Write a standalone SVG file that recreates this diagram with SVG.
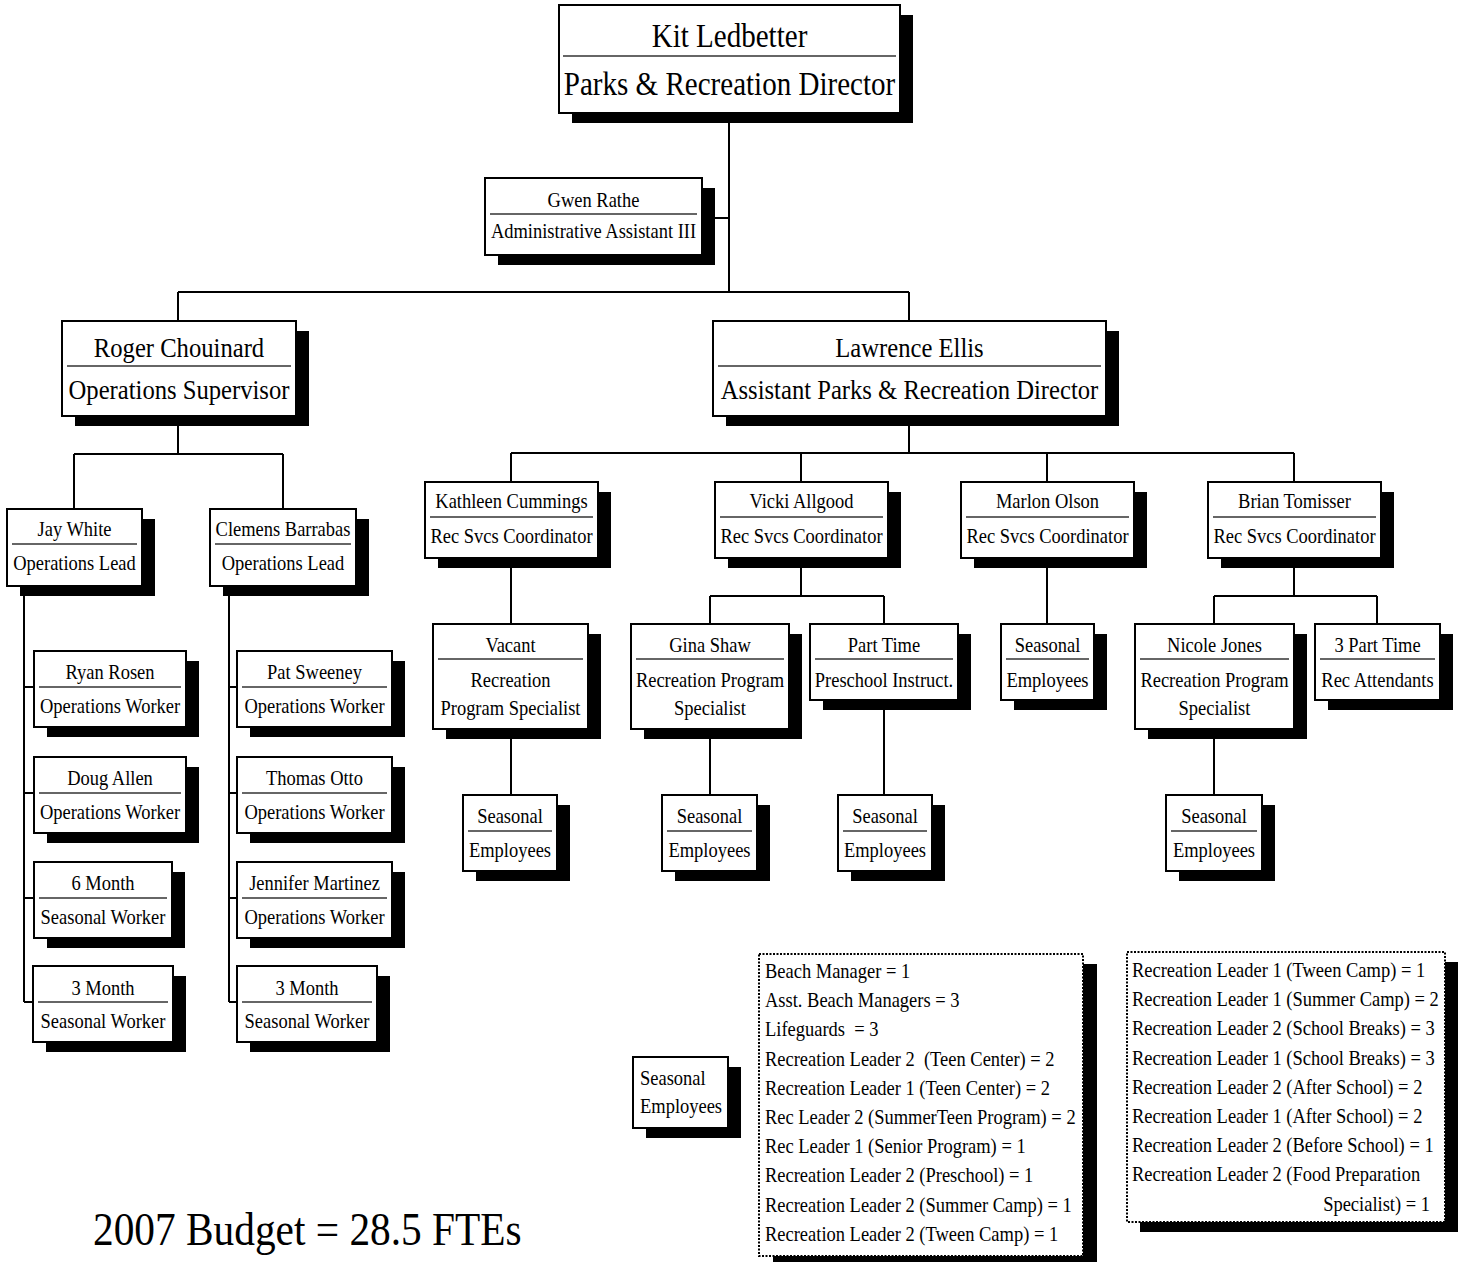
<svg xmlns="http://www.w3.org/2000/svg" width="1458" height="1262" viewBox="0 0 1458 1262">
<style>
.bx{fill:#fff;stroke:#000;stroke-width:2}
.sh{fill:#000}
.dv{stroke:#333;stroke-width:1.5}
.ln{stroke:#000;stroke-width:2;fill:none}
.dot{fill:#fff;stroke:#000;stroke-width:2;stroke-dasharray:2 1.5}
text{font-family:"Liberation Serif","Times New Roman",serif;fill:#000}
.c21{font-size:21px;text-anchor:middle}
.c28{font-size:28px;text-anchor:middle}
.c33{font-size:33px;text-anchor:middle}
.l21{font-size:21px}
.r21{font-size:21px;text-anchor:end}
.big{font-size:47px}
</style>
<rect width="1458" height="1262" fill="#fff"/>
<g id="connectors" class="ln">
<path d="M729,113V292M178,292H909M178,292V321M909,292V321M702,218H729"/>
<path d="M178,416V454M74,454H283M74,454V509M283,454V509"/>
<path d="M909,416V453M511,453H1294M511,453V482M801,453V482M1047,453V482M1294,453V482"/>
<path d="M511,558V624M511,729V795"/>
<path d="M801,558V596M710,596H884M710,596V624M884,596V624M710,729V795M884,700V795"/>
<path d="M1047,558V624"/>
<path d="M1294,558V596M1214,596H1377M1214,596V624M1377,596V624M1214,729V795"/>
<path d="M24,586V1002M24,687H34M24,793H34M24,898H34M24,1002H33"/>
<path d="M229,586V1002M229,687H237M229,793H237M229,898H237M229,1002H237"/>
</g>
<g id="n-kit"><rect class="sh" x="572" y="15" width="341" height="108"/><rect class="bx" x="559" y="5" width="341" height="108"/><line class="dv" x1="563" y1="56" x2="896" y2="56"/>
<text class="c33" transform="translate(729.5,47) scale(.88,1)">Kit Ledbetter</text><text class="c33" transform="translate(729.5,95) scale(.88,1)">Parks &amp; Recreation Director</text></g>
<g id="n-gwen"><rect class="sh" x="498" y="188" width="217" height="77"/><rect class="bx" x="485" y="178" width="217" height="77"/><line class="dv" x1="490" y1="214" x2="697" y2="214"/>
<text class="c21" transform="translate(593.5,207) scale(.88,1)">Gwen Rathe</text><text class="c21" transform="translate(593.5,238) scale(.88,1)">Administrative Assistant III</text></g>
<g id="n-roger"><rect class="sh" x="75" y="331" width="234" height="95"/><rect class="bx" x="62" y="321" width="234" height="95"/><line class="dv" x1="67" y1="366" x2="291" y2="366"/>
<text class="c28" transform="translate(179,357) scale(.88,1)">Roger Chouinard</text><text class="c28" transform="translate(179,399) scale(.88,1)">Operations Supervisor</text></g>
<g id="n-lawrence"><rect class="sh" x="726" y="331" width="393" height="95"/><rect class="bx" x="713" y="321" width="393" height="95"/><line class="dv" x1="718" y1="366" x2="1101" y2="366"/>
<text class="c28" transform="translate(909.5,357) scale(.88,1)">Lawrence Ellis</text><text class="c28" transform="translate(909.5,399) scale(.88,1)">Assistant Parks &amp; Recreation Director</text></g>
<g id="n-jay"><rect class="sh" x="20" y="519" width="135" height="77"/><rect class="bx" x="7" y="509" width="135" height="77"/><line class="dv" x1="12" y1="544" x2="137" y2="544"/>
<text class="c21" transform="translate(74.5,536) scale(.88,1)">Jay White</text><text class="c21" transform="translate(74.5,570) scale(.88,1)">Operations Lead</text></g>
<g id="n-clemens"><rect class="sh" x="223" y="519" width="146" height="77"/><rect class="bx" x="210" y="509" width="146" height="77"/><line class="dv" x1="215" y1="544" x2="351" y2="544"/>
<text class="c21" transform="translate(283,536) scale(.88,1)">Clemens Barrabas</text><text class="c21" transform="translate(283,570) scale(.88,1)">Operations Lead</text></g>
<g id="n-ryan"><rect class="sh" x="47" y="661" width="152" height="76"/><rect class="bx" x="34" y="651" width="152" height="76"/><line class="dv" x1="39" y1="687" x2="181" y2="687"/>
<text class="c21" transform="translate(110,679) scale(.88,1)">Ryan Rosen</text><text class="c21" transform="translate(110,713) scale(.88,1)">Operations Worker</text></g>
<g id="n-doug"><rect class="sh" x="47" y="767" width="152" height="76"/><rect class="bx" x="34" y="757" width="152" height="76"/><line class="dv" x1="39" y1="793" x2="181" y2="793"/>
<text class="c21" transform="translate(110,785) scale(.88,1)">Doug Allen</text><text class="c21" transform="translate(110,819) scale(.88,1)">Operations Worker</text></g>
<g id="n-6month"><rect class="sh" x="47" y="872" width="138" height="76"/><rect class="bx" x="34" y="862" width="138" height="76"/><line class="dv" x1="39" y1="898" x2="167" y2="898"/>
<text class="c21" transform="translate(103,890) scale(.88,1)">6 Month</text><text class="c21" transform="translate(103,924) scale(.88,1)">Seasonal Worker</text></g>
<g id="n-3month-a"><rect class="sh" x="46" y="976" width="140" height="76"/><rect class="bx" x="33" y="966" width="140" height="76"/><line class="dv" x1="38" y1="1002" x2="168" y2="1002"/>
<text class="c21" transform="translate(103,995) scale(.88,1)">3 Month</text><text class="c21" transform="translate(103,1028) scale(.88,1)">Seasonal Worker</text></g>
<g id="n-pat"><rect class="sh" x="250" y="661" width="155" height="76"/><rect class="bx" x="237" y="651" width="155" height="76"/><line class="dv" x1="242" y1="687" x2="387" y2="687"/>
<text class="c21" transform="translate(314.5,679) scale(.88,1)">Pat Sweeney</text><text class="c21" transform="translate(314.5,713) scale(.88,1)">Operations Worker</text></g>
<g id="n-thomas"><rect class="sh" x="250" y="767" width="155" height="76"/><rect class="bx" x="237" y="757" width="155" height="76"/><line class="dv" x1="242" y1="793" x2="387" y2="793"/>
<text class="c21" transform="translate(314.5,785) scale(.88,1)">Thomas Otto</text><text class="c21" transform="translate(314.5,819) scale(.88,1)">Operations Worker</text></g>
<g id="n-jennifer"><rect class="sh" x="250" y="872" width="155" height="76"/><rect class="bx" x="237" y="862" width="155" height="76"/><line class="dv" x1="242" y1="898" x2="387" y2="898"/>
<text class="c21" transform="translate(314.5,890) scale(.88,1)">Jennifer Martinez</text><text class="c21" transform="translate(314.5,924) scale(.88,1)">Operations Worker</text></g>
<g id="n-3month-b"><rect class="sh" x="250" y="976" width="140" height="76"/><rect class="bx" x="237" y="966" width="140" height="76"/><line class="dv" x1="242" y1="1002" x2="372" y2="1002"/>
<text class="c21" transform="translate(307,995) scale(.88,1)">3 Month</text><text class="c21" transform="translate(307,1028) scale(.88,1)">Seasonal Worker</text></g>
<g id="n-kathleen"><rect class="sh" x="438" y="492" width="173" height="76"/><rect class="bx" x="425" y="482" width="173" height="76"/><line class="dv" x1="430" y1="517" x2="593" y2="517"/>
<text class="c21" transform="translate(511.5,508) scale(.88,1)">Kathleen Cummings</text><text class="c21" transform="translate(511.5,543) scale(.88,1)">Rec Svcs Coordinator</text></g>
<g id="n-vicki"><rect class="sh" x="728" y="492" width="173" height="76"/><rect class="bx" x="715" y="482" width="173" height="76"/><line class="dv" x1="720" y1="517" x2="883" y2="517"/>
<text class="c21" transform="translate(801.5,508) scale(.88,1)">Vicki Allgood</text><text class="c21" transform="translate(801.5,543) scale(.88,1)">Rec Svcs Coordinator</text></g>
<g id="n-marlon"><rect class="sh" x="974" y="492" width="173" height="76"/><rect class="bx" x="961" y="482" width="173" height="76"/><line class="dv" x1="966" y1="517" x2="1129" y2="517"/>
<text class="c21" transform="translate(1047.5,508) scale(.88,1)">Marlon Olson</text><text class="c21" transform="translate(1047.5,543) scale(.88,1)">Rec Svcs Coordinator</text></g>
<g id="n-brian"><rect class="sh" x="1221" y="492" width="173" height="76"/><rect class="bx" x="1208" y="482" width="173" height="76"/><line class="dv" x1="1213" y1="517" x2="1376" y2="517"/>
<text class="c21" transform="translate(1294.5,508) scale(.88,1)">Brian Tomisser</text><text class="c21" transform="translate(1294.5,543) scale(.88,1)">Rec Svcs Coordinator</text></g>
<g id="n-vacant"><rect class="sh" x="446" y="634" width="155" height="105"/><rect class="bx" x="433" y="624" width="155" height="105"/><line class="dv" x1="438" y1="659" x2="583" y2="659"/>
<text class="c21" transform="translate(510.5,652) scale(.88,1)">Vacant</text><text class="c21" transform="translate(510.5,687) scale(.88,1)">Recreation</text><text class="c21" transform="translate(510.5,715) scale(.88,1)">Program Specialist</text></g>
<g id="n-gina"><rect class="sh" x="644" y="634" width="158" height="105"/><rect class="bx" x="631" y="624" width="158" height="105"/><line class="dv" x1="636" y1="659" x2="784" y2="659"/>
<text class="c21" transform="translate(710,652) scale(.88,1)">Gina Shaw</text><text class="c21" transform="translate(710,687) scale(.88,1)">Recreation Program</text><text class="c21" transform="translate(710,715) scale(.88,1)">Specialist</text></g>
<g id="n-parttime"><rect class="sh" x="823" y="634" width="148" height="76"/><rect class="bx" x="810" y="624" width="148" height="76"/><line class="dv" x1="815" y1="659" x2="953" y2="659"/>
<text class="c21" transform="translate(884,652) scale(.88,1)">Part Time</text><text class="c21" transform="translate(884,687) scale(.88,1)">Preschool Instruct.</text></g>
<g id="n-marlon-seasonal"><rect class="sh" x="1014" y="634" width="93" height="76"/><rect class="bx" x="1001" y="624" width="93" height="76"/><line class="dv" x1="1006" y1="659" x2="1089" y2="659"/>
<text class="c21" transform="translate(1047.5,652) scale(.88,1)">Seasonal</text><text class="c21" transform="translate(1047.5,687) scale(.88,1)">Employees</text></g>
<g id="n-nicole"><rect class="sh" x="1148" y="634" width="159" height="105"/><rect class="bx" x="1135" y="624" width="159" height="105"/><line class="dv" x1="1140" y1="659" x2="1289" y2="659"/>
<text class="c21" transform="translate(1214.5,652) scale(.88,1)">Nicole Jones</text><text class="c21" transform="translate(1214.5,687) scale(.88,1)">Recreation Program</text><text class="c21" transform="translate(1214.5,715) scale(.88,1)">Specialist</text></g>
<g id="n-3parttime"><rect class="sh" x="1328" y="634" width="125" height="76"/><rect class="bx" x="1315" y="624" width="125" height="76"/><line class="dv" x1="1320" y1="659" x2="1435" y2="659"/>
<text class="c21" transform="translate(1377.5,652) scale(.88,1)">3 Part Time</text><text class="c21" transform="translate(1377.5,687) scale(.88,1)">Rec Attendants</text></g>
<g id="n-seasonal-vacant"><rect class="sh" x="476" y="805" width="94" height="76"/><rect class="bx" x="463" y="795" width="94" height="76"/><line class="dv" x1="468" y1="831" x2="552" y2="831"/>
<text class="c21" transform="translate(510,823) scale(.88,1)">Seasonal</text><text class="c21" transform="translate(510,857) scale(.88,1)">Employees</text></g>
<g id="n-seasonal-gina"><rect class="sh" x="675" y="805" width="95" height="76"/><rect class="bx" x="662" y="795" width="95" height="76"/><line class="dv" x1="667" y1="831" x2="752" y2="831"/>
<text class="c21" transform="translate(709.5,823) scale(.88,1)">Seasonal</text><text class="c21" transform="translate(709.5,857) scale(.88,1)">Employees</text></g>
<g id="n-seasonal-part"><rect class="sh" x="851" y="805" width="94" height="76"/><rect class="bx" x="838" y="795" width="94" height="76"/><line class="dv" x1="843" y1="831" x2="927" y2="831"/>
<text class="c21" transform="translate(885,823) scale(.88,1)">Seasonal</text><text class="c21" transform="translate(885,857) scale(.88,1)">Employees</text></g>
<g id="n-seasonal-nicole"><rect class="sh" x="1179" y="805" width="96" height="76"/><rect class="bx" x="1166" y="795" width="96" height="76"/><line class="dv" x1="1171" y1="831" x2="1257" y2="831"/>
<text class="c21" transform="translate(1214,823) scale(.88,1)">Seasonal</text><text class="c21" transform="translate(1214,857) scale(.88,1)">Employees</text></g>
<g id="n-seasonal-legend"><rect class="sh" x="646" y="1067" width="95" height="71"/><rect class="bx" x="633" y="1057" width="95" height="71"/>
<text class="l21" transform="translate(640,1085) scale(.88,1)">Seasonal</text><text class="l21" transform="translate(640,1113) scale(.88,1)">Employees</text></g>
<g id="n-list-1"><rect class="sh" x="773" y="964" width="324" height="302"/><rect class="dot" x="759" y="954" width="324" height="302"/>
<text class="l21" transform="translate(765,978) scale(.88,1)">Beach Manager = 1</text>
<text class="l21" transform="translate(765,1007.2) scale(.88,1)">Asst. Beach Managers = 3</text>
<text class="l21" transform="translate(765,1036.4) scale(.88,1)" xml:space="preserve">Lifeguards  = 3</text>
<text class="l21" transform="translate(765,1065.6) scale(.88,1)" xml:space="preserve">Recreation Leader 2  (Teen Center) = 2</text>
<text class="l21" transform="translate(765,1094.8) scale(.88,1)">Recreation Leader 1 (Teen Center) = 2</text>
<text class="l21" transform="translate(765,1124) scale(.88,1)">Rec Leader 2 (SummerTeen Program) = 2</text>
<text class="l21" transform="translate(765,1153.2) scale(.88,1)">Rec Leader 1 (Senior Program) = 1</text>
<text class="l21" transform="translate(765,1182.4) scale(.88,1)">Recreation Leader 2 (Preschool) = 1</text>
<text class="l21" transform="translate(765,1211.6) scale(.88,1)">Recreation Leader 2 (Summer Camp) = 1</text>
<text class="l21" transform="translate(765,1240.8) scale(.88,1)">Recreation Leader 2 (Tween Camp) = 1</text></g>
<g id="n-list-2"><rect class="sh" x="1140" y="962" width="318" height="270"/><rect class="dot" x="1127" y="952" width="318" height="270"/>
<text class="l21" transform="translate(1132,977) scale(.88,1)">Recreation Leader 1 (Tween Camp) = 1</text>
<text class="l21" transform="translate(1132,1006.2) scale(.88,1)">Recreation Leader 1 (Summer Camp) = 2</text>
<text class="l21" transform="translate(1132,1035.4) scale(.88,1)">Recreation Leader 2 (School Breaks) = 3</text>
<text class="l21" transform="translate(1132,1064.6) scale(.88,1)">Recreation Leader 1 (School Breaks) = 3</text>
<text class="l21" transform="translate(1132,1093.8) scale(.88,1)">Recreation Leader 2 (After School) = 2</text>
<text class="l21" transform="translate(1132,1123) scale(.88,1)">Recreation Leader 1 (After School) = 2</text>
<text class="l21" transform="translate(1132,1152.2) scale(.88,1)">Recreation Leader 2 (Before School) = 1</text>
<text class="l21" transform="translate(1132,1181.4) scale(.88,1)">Recreation Leader 2 (Food Preparation</text>
<text class="r21" transform="translate(1430,1210.6) scale(.88,1)">Specialist) = 1</text></g>
<text class="big" transform="translate(93,1245) scale(.88,1)">2007 Budget = 28.5 FTEs</text>
</svg>
